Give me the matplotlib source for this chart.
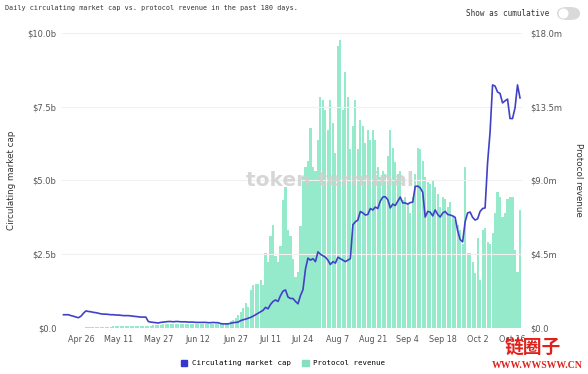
import matplotlib
matplotlib.use("Agg")
import matplotlib.pyplot as plt
import matplotlib.patches as mpatches
from matplotlib.patches import FancyBboxPatch
import pandas as pd

# data (one value per day)
dates = pd.date_range("2023-04-19", "2023-10-19", freq="D")

revenue_m = [  # protocol revenue, $m
    0.02, 0.03, 0.03, 0.03, 0.03, 0.03, 0.03, 0.03, 0.03, 0.05,
    0.05, 0.05, 0.06, 0.06, 0.06, 0.07, 0.07, 0.07, 0.08, 0.08,
    0.10, 0.10, 0.11, 0.11, 0.12, 0.12, 0.12, 0.13, 0.13, 0.13,
    0.14, 0.14, 0.14, 0.15, 0.15, 0.15, 0.20, 0.20, 0.21, 0.21,
    0.22, 0.22, 0.22, 0.23, 0.23, 0.23, 0.24, 0.24, 0.24, 0.25,
    0.25, 0.25, 0.24, 0.24, 0.25, 0.25, 0.25, 0.24, 0.25, 0.25,
    0.25, 0.25, 0.26, 0.27, 0.28, 0.30, 0.30, 0.40, 0.50, 0.60,
    0.80, 1.00, 1.20, 1.50, 1.30, 2.30, 2.60, 2.70, 2.70, 2.90,
    2.60, 4.60, 4.00, 5.60, 6.30, 4.40, 4.00, 5.00, 7.80, 8.60,
    6.00, 5.60, 4.20, 3.10, 3.40, 6.20, 9.20, 9.80, 10.2, 12.2,
    9.80, 9.60, 11.5, 14.1, 13.9, 13.3, 12.1, 13.9, 12.5, 10.7,
    17.2, 17.6, 13.3, 15.6, 14.1, 10.9, 12.3, 13.9, 10.9, 12.7,
    12.3, 11.3, 12.1, 11.5, 12.1, 11.5, 9.80, 9.20, 9.60, 9.40,
    10.5, 12.1, 11.0, 10.1, 9.40, 9.60, 7.80, 8.00, 7.60, 7.00,
    8.00, 9.40, 11.0, 10.9, 10.2, 9.20, 8.90, 8.80, 9.00, 8.60,
    8.20, 7.40, 8.00, 7.90, 7.40, 7.70, 6.80, 6.60, 6.30, 6.00,
    5.10, 9.80, 4.60, 4.60, 4.00, 3.35, 5.50, 2.90, 6.00, 6.10,
    5.25, 5.10, 5.80, 7.00, 8.30, 8.00, 6.80, 7.00, 7.90, 8.00,
    8.00, 4.75, 3.40, 7.20,
]

mcap_b = [  # circulating market cap, $b
    0.45, 0.45, 0.45, 0.42, 0.40, 0.37, 0.35, 0.40, 0.50, 0.58,
    0.56, 0.55, 0.53, 0.52, 0.50, 0.48, 0.47, 0.47, 0.46, 0.45,
    0.45, 0.44, 0.44, 0.43, 0.42, 0.42, 0.42, 0.41, 0.40, 0.39,
    0.38, 0.37, 0.37, 0.37, 0.22, 0.20, 0.19, 0.18, 0.17, 0.19,
    0.20, 0.21, 0.22, 0.22, 0.21, 0.22, 0.22, 0.21, 0.21, 0.21,
    0.20, 0.20, 0.20, 0.19, 0.19, 0.19, 0.19, 0.19, 0.18, 0.18,
    0.19, 0.18, 0.18, 0.15, 0.14, 0.14, 0.14, 0.16, 0.18, 0.19,
    0.20, 0.25, 0.28, 0.30, 0.33, 0.36, 0.40, 0.45, 0.50, 0.55,
    0.60, 0.70, 0.65, 0.80, 0.90, 0.95, 0.90, 1.10, 1.25, 1.29,
    1.05, 1.00, 1.00, 0.90, 0.82, 1.10, 1.30, 2.00, 2.37, 2.30,
    2.35, 2.25, 2.58, 2.50, 2.45, 2.40, 2.30, 2.15, 2.25, 2.20,
    2.40, 2.35, 2.30, 2.25, 2.30, 2.35, 3.50, 3.60, 3.66, 3.95,
    3.90, 3.83, 3.85, 4.05, 4.00, 4.10, 4.05, 4.30, 4.44, 4.45,
    4.35, 4.07, 4.20, 4.15, 4.30, 4.44, 4.24, 4.24, 4.20, 4.25,
    4.27, 4.80, 4.81, 4.75, 4.60, 3.76, 3.95, 3.93, 3.80, 4.00,
    3.85, 3.76, 3.90, 3.95, 3.85, 3.83, 3.80, 3.75, 3.30, 3.00,
    2.92, 3.60, 3.90, 3.93, 3.75, 3.66, 3.70, 3.95, 4.05, 4.07,
    5.60, 6.64, 8.24, 8.20, 8.00, 7.95, 7.63, 7.70, 7.76, 7.10,
    7.10, 7.46, 8.24, 7.80,
]

tick_dates = pd.to_datetime(["2023-04-26", "2023-05-11", "2023-05-27", "2023-06-12",
                             "2023-06-27", "2023-07-11", "2023-07-24", "2023-08-07",
                             "2023-08-21", "2023-09-04", "2023-09-18", "2023-10-02",
                             "2023-10-16"])
tick_labels = ["Apr 26", "May 11", "May 27", "Jun 12", "Jun 27", "Jul 11", "Jul 24",
               "Aug 7", "Aug 21", "Sep 4", "Sep 18", "Oct 2", "Oct 16"]
left_ticks = [0, 2.5, 5.0, 7.5, 10.0]
left_labels = ["$0.0", "$2.5b", "$5.0b", "$7.5b", "$10.0b"]
right_ticks = [0, 4.5, 9.0, 13.5, 18.0]
right_labels = ["$0.0", "$4.5m", "$9.0m", "$13.5m", "$18.0m"]

line_color = "#4141c8"
bar_color = "#95eacb"
grey = "#555555"
mono = "DejaVu Sans Mono"

fig = plt.figure(figsize=(5.88, 3.74), dpi=100)
ax = fig.add_axes([62 / 588, 1 - 328 / 374, 460 / 588, 295 / 374])
ax2 = ax.twinx()

ax2.bar(dates, revenue_m, width=0.85, color=bar_color, linewidth=0)
ax.plot(dates, mcap_b, color=line_color, linewidth=1.2)

ax.set_zorder(ax2.get_zorder() + 1)
ax.patch.set_visible(False)

ax.set_ylim(0, 10)
ax2.set_ylim(0, 18)
ax.set_xlim(dates[0] - pd.Timedelta(days=0.6), dates[-1] + pd.Timedelta(days=0.8))

ax.set_yticks(left_ticks)
ax.set_yticklabels(left_labels)
ax2.set_yticks(right_ticks)
ax2.set_yticklabels(right_labels)
ax.set_xticks(tick_dates)
ax.set_xticklabels(tick_labels)

for a in (ax, ax2):
    for s in a.spines.values():
        s.set_visible(False)
    a.tick_params(length=0, labelsize=6, colors=grey)
ax.tick_params(axis="y", pad=4)
ax2.tick_params(axis="y", pad=6)
ax.tick_params(axis="x", pad=5, labelsize=5.8)
ax.grid(axis="y", color="#f0f0f0", linewidth=0.8)
ax.axhline(0, color="#d8d8d8", linewidth=0.6)

fig.text(12 / 588, 1 - 180 / 374, "Circulating market cap", rotation=90,
         ha="center", va="center", fontsize=6.3, color="#333333")
fig.text(578 / 588, 1 - 180 / 374, "Protocol revenue", rotation=270,
         ha="center", va="center", fontsize=6.3, color="#333333")

# title and toggle
fig.text(5 / 588, 1 - 8 / 374, "Daily circulating market cap vs. protocol revenue in the past 180 days.",
         ha="left", va="center", fontsize=4.9, color="#333333", family=mono)
fig.text(549 / 588, 1 - 13 / 374, "Show as cumulative", ha="right", va="center",
         fontsize=5.5, color="#333333", family=mono)
toggle = FancyBboxPatch((557 / 588, 1 - 20 / 374), 23 / 588, 13 / 374,
                        boxstyle="round,pad=0,rounding_size=0.017",
                        transform=fig.transFigure, facecolor="#d9d9d9", edgecolor="none")
fig.patches.append(toggle)
knob = mpatches.Ellipse((563.5 / 588, 1 - 13.5 / 374), 10 / 588, 10 / 374,
                        transform=fig.transFigure, facecolor="white", edgecolor="none")
fig.patches.append(knob)

# watermark
fig.text(330 / 588, 1 - 181 / 374, "token terminal", ha="center", va="center",
         fontsize=14.5, color="#cfcfcf", alpha=0.85, fontweight="semibold", zorder=10)

# legend
handles = [mpatches.Patch(color="#3535d0", label="Circulating market cap"),
           mpatches.Patch(color="#86dfc0", label="Protocol revenue")]
fig.legend(handles=handles, loc="center", bbox_to_anchor=(283 / 588, 1 - 363 / 374),
           ncol=2, frameon=False, handlelength=0.9, handleheight=0.9,
           columnspacing=1.6, handletextpad=0.6,
           prop={"family": mono, "size": 5.3})

# site stamp
fig.text(533 / 588, 1 - 348 / 374, "链圈子", ha="center", va="center", fontsize=13.5,
         color="#e0201a", fontweight="bold", family=["Noto Sans CJK SC", "DejaVu Sans"])
fig.text(537 / 588, 1 - 365 / 374, "WWW.WWSWW.CN", ha="center", va="center", fontsize=7.0,
         color="#e0201a", fontweight="bold", family="Liberation Serif")

fig.savefig("out.png", dpi=100)
